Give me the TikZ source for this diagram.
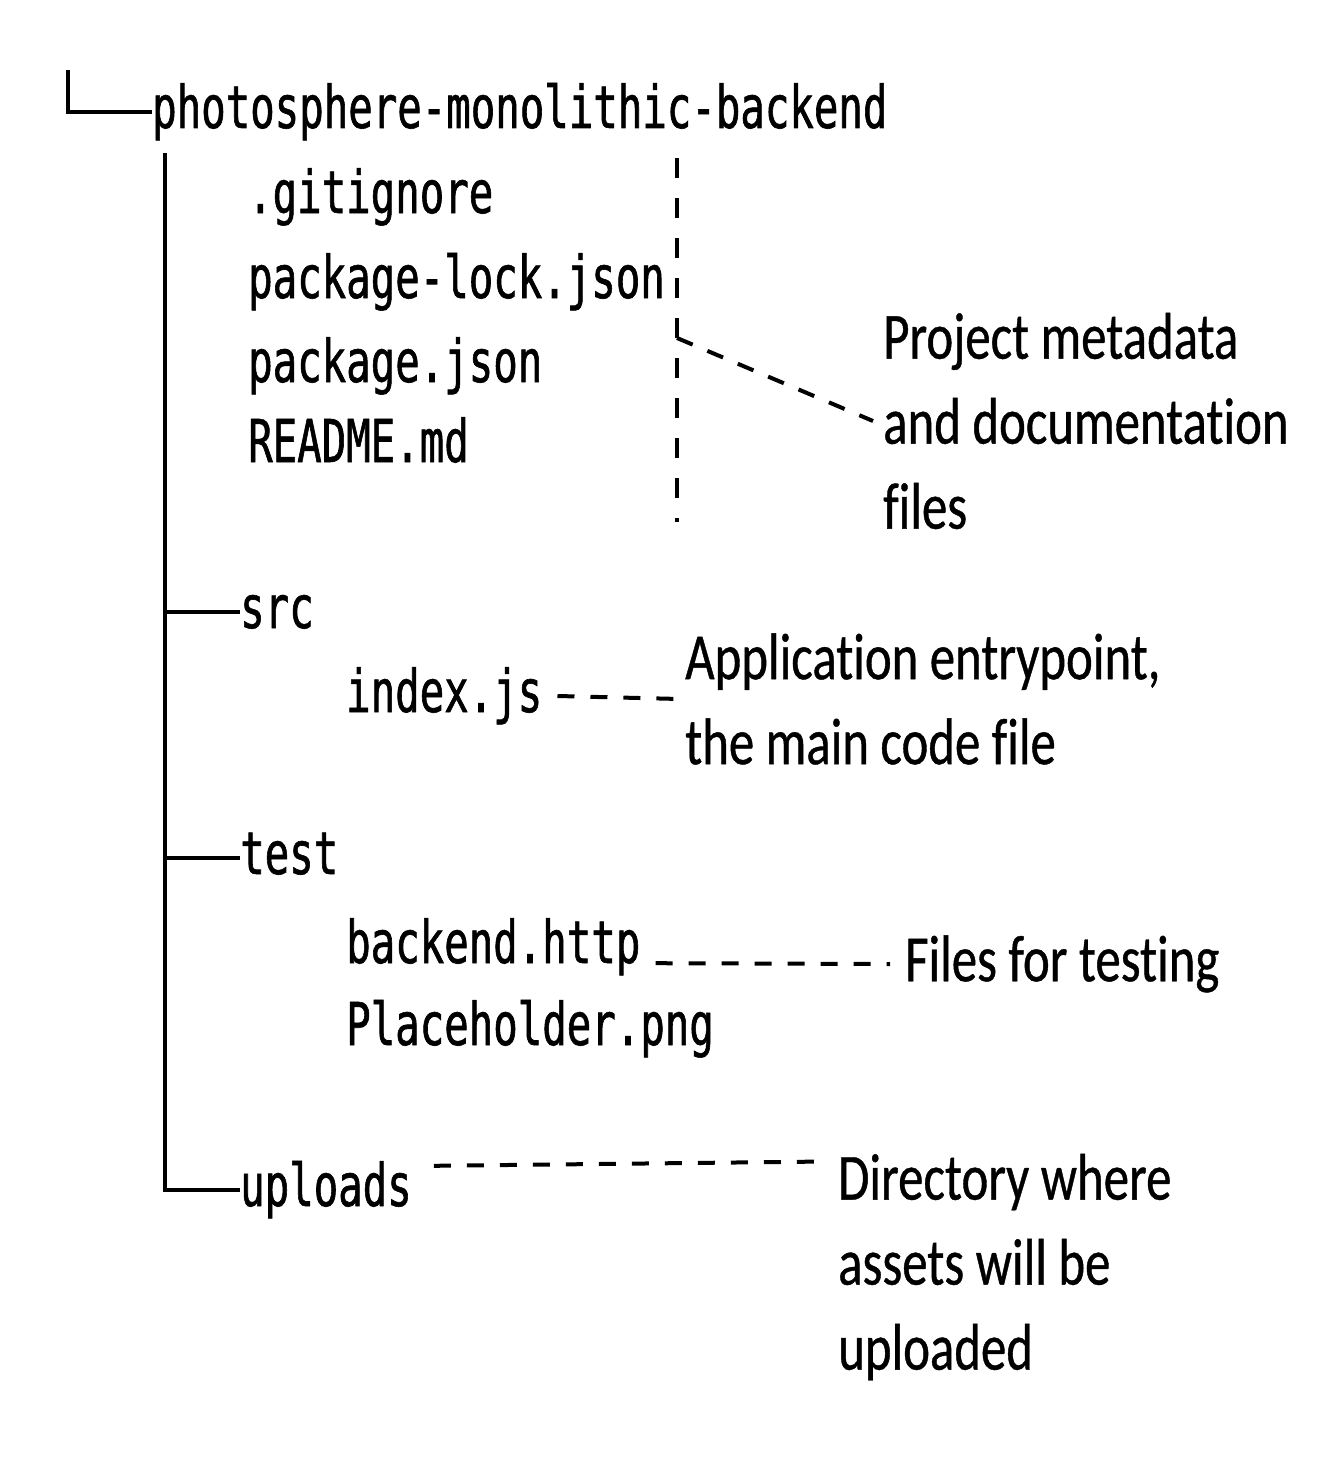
\documentclass[tikz,border=0pt]{standalone}
\usepackage{fontspec}
\newfontfamily\codefont[FakeStretch=0.69,FakeBold=1]{DejaVu Sans Mono}
\newfontfamily\notefont[FakeStretch=0.77,FakeBold=0.6,Ligatures=NoCommon]{Carlito}

\begin{document}
\begin{tikzpicture}
    [x=1pt,y=1pt,inner sep=0pt,
     file/.style={anchor=west,font={\codefont\fontsize{59}{70}\selectfont},
       text height=32pt,text depth=0pt},
     note/.style={anchor=west,align=left,font={\notefont\fontsize{66}{85}\selectfont}},
     tree/.style={line width=3.5pt},
     hint/.style={line width=4pt,dash pattern=on 17pt off 16pt}]

    \useasboundingbox (0,0) rectangle (1318,-1461);

    % root folder:
    \node (root) at (152, -112) [file] {photosphere-monolithic-backend};

    % top level files:
    \node (gitignore) at (248, -197) [file] {.gitignore};
    \node (lockfile) at (248, -282) [file] {package-lock.json};
    \node (pkgjson) at (248, -366) [file] {package.json};
    \node (readme) at (248, -446) [file] {README.md};

    % sub folders:
    \node (src) at (240, -612) [file] {src};
    \node (index) at (346, -696) [file] {index.js};
    \node (test) at (240, -858) [file] {test};
    \node (backendhttp) at (346, -947) [file] {backend.http};
    \node (placeholder) at (346, -1029) [file] {Placeholder.png};
    \node (uploads) at (240, -1190) [file] {uploads};

    % notes:
    \node (projnote) at (883, -421) [note] {Project metadata\\and documentation\\files};
    \node (appnote) at (685, -699) [note] {Application entrypoint,\\the main code file};
    \node (testnote) at (905, -964) [note] {Files for testing};
    \node (dirnote) at (838, -1267) [note] {Directory where\\assets will be\\uploaded};

    % tree lines:
    \coordinate (rootstem) at (68, -70);
    \coordinate (trunk) at (165, -153);
    \draw [tree] (rootstem) |- (root.west);
    \draw [tree] (trunk) |- (uploads.west);
    \draw [tree] (trunk |- src.west) -- (src.west);
    \draw [tree] (trunk |- test.west) -- (test.west);

    % bracket for the top files:
    \coordinate (brtop) at (677, -158);
    \coordinate (brbottom) at (677, -522);
    \coordinate (brjoint) at (677, -338);
    \draw [hint,dash pattern=on 20pt off 20pt] (brtop) -- (brbottom);
    \draw [hint] (brjoint) -- ([xshift=-10pt]projnote.west);

    % connect files to notes:
    \draw [hint] ([xshift=15pt]index.east) -- ([xshift=-5pt]appnote.west);
    \draw [hint] ([xshift=15pt]backendhttp.south east) -- ([xshift=-15pt]testnote.west);
    \draw [hint] ([xshift=22pt,yshift=8pt]uploads.north east) -- ([xshift=-18pt,yshift=-8pt]dirnote.north west);

  \end{tikzpicture}
\end{document}
